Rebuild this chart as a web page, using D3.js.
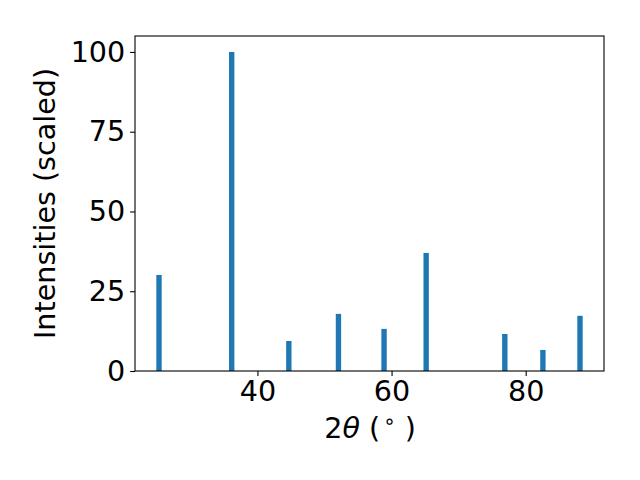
<!DOCTYPE html>
<html><head><meta charset="utf-8">
<script src="https://cdn.jsdelivr.net/npm/d3@7"></script>
<style>body{margin:0;background:#fff}svg{display:block}text{font-family:"DejaVu Sans",sans-serif}</style>
</head><body>
<script>
const angles = [25.32, 36.16, 44.68, 52.08, 58.88, 65.16, 76.89, 82.57, 88.10];
const intensities = [30.1, 100, 9.4, 17.9, 13.2, 37.0, 11.6, 6.6, 17.3];
const xTicks = [40, 60, 80];
const yTicks = [0, 25, 50, 75, 100];
const barWidth = 0.8;

const W = 640, H = 480;
const m = {l: 135, r: 604, t: 36, b: 371};
const fs = 28.6;
const svg = d3.select("body").append("svg").attr("width", W).attr("height", H);

const x = d3.scaleLinear().domain([21.74, 91.68]).range([m.l, m.r]);
const y = d3.scaleLinear().domain([0, 105]).range([m.b, m.t]);

svg.append("g").selectAll("rect").data(angles).join("rect")
  .attr("x", (d) => x(d - barWidth / 2))
  .attr("width", (d) => x(d + barWidth / 2) - x(d - barWidth / 2))
  .attr("y", (d, i) => y(intensities[i]))
  .attr("height", (d, i) => y(0) - y(intensities[i]))
  .attr("fill", "#1f77b4");

const xa = svg.append("g").attr("transform", `translate(0,${m.b})`)
  .call(d3.axisBottom(x).tickValues(xTicks).tickSize(4.9).tickPadding(4.9).tickFormat(d3.format("d")));
const ya = svg.append("g").attr("transform", `translate(${m.l},0)`)
  .call(d3.axisLeft(y).tickValues(yTicks).tickSize(4.9).tickPadding(4.9).tickFormat(d3.format("d")));
[xa, ya].forEach(a => {
  a.select(".domain").remove();
  a.selectAll("line").attr("stroke", "#000").attr("stroke-width", 1.1);
  a.selectAll("text").attr("font-size", fs).attr("fill", "#000").attr("font-family", "DejaVu Sans");
});

svg.append("rect").attr("x", m.l).attr("y", m.t).attr("width", m.r - m.l).attr("height", m.b - m.t)
  .attr("fill", "none").attr("stroke", "#000").attr("stroke-width", 1.1);

const xl = svg.append("text").attr("x", 370).attr("y", 438)
  .attr("text-anchor", "middle").attr("font-size", fs).attr("fill", "#000");
xl.append("tspan").text("2");
xl.append("tspan").attr("font-style", "italic").text("θ");
xl.append("tspan").text(" (");
xl.append("tspan").attr("font-size", fs * 0.7).attr("dy", -10).attr("dx", 3).text("∘");
xl.append("tspan").attr("dy", 10).attr("dx", 9).text(")");

svg.append("text").attr("transform", `translate(54.5,${(m.t + m.b) / 2}) rotate(-90)`)
  .attr("text-anchor", "middle").attr("font-size", fs).attr("fill", "#000")
  .text("Intensities (scaled)");
</script>
</body></html>
